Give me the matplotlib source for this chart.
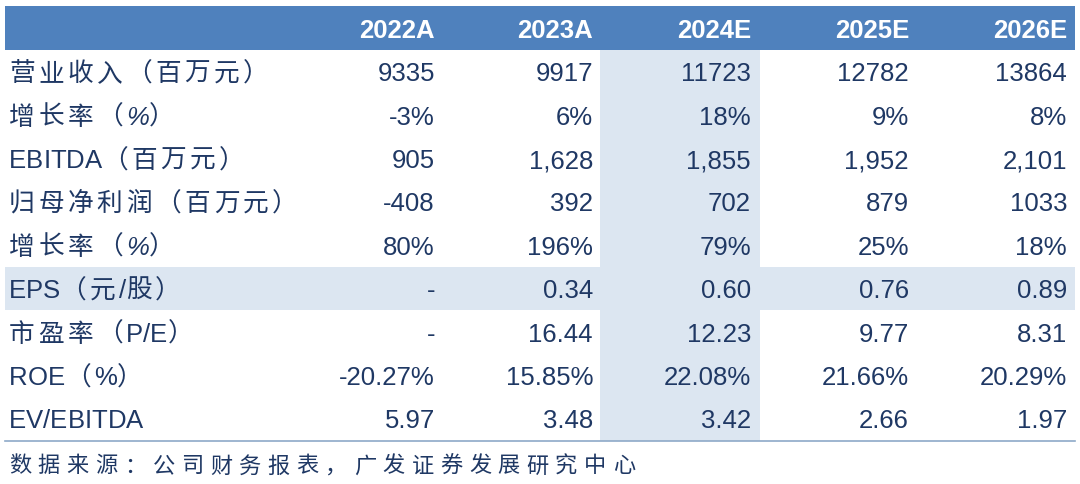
import matplotlib
matplotlib.use("Agg")
import matplotlib.pyplot as plt
from matplotlib.patches import Rectangle

plt.rcParams['font.family'] = ['Liberation Sans', 'Noto Sans CJK SC', 'DejaVu Sans']

years = ["2022A", "2023A", "2024E", "2025E", "2026E"]
row_labels = ["营业收入（百万元）", "增长率（%）", "EBITDA（百万元）", "归母净利润（百万元）", "增长率（%）",
              "EPS（元/股）", "市盈率（P/E）", "ROE（%）", "EV/EBITDA"]
italic_rows = [1, 4]
values = [
    ["9335", "9917", "11723", "12782", "13864"],
    ["-3%", "6%", "18%", "9%", "8%"],
    ["905", "1,628", "1,855", "1,952", "2,101"],
    ["-408", "392", "702", "879", "1033"],
    ["80%", "196%", "79%", "25%", "18%"],
    ["-", "0.34", "0.60", "0.76", "0.89"],
    ["-", "16.44", "12.23", "9.77", "8.31"],
    ["-20.27%", "15.85%", "22.08%", "21.66%", "20.29%"],
    ["5.97", "3.48", "3.42", "2.66", "1.97"],
]
source = "数据来源：公司财务报表，广发证券发展研究中心"

W, H = 1080, 484
fig = plt.figure(figsize=(W/100, H/100), dpi=100)
ax = fig.add_axes([0, 0, 1, 1])
ax.set_xlim(0, W); ax.set_ylim(H, 0); ax.axis('off')
renderer = fig.canvas.get_renderer()

blue = "#4F81BD"; light = "#DCE6F1"; txt = "#1F3864"
left, right = 5, 1075
hdr_top, hdr_bot = 6, 50
row_h = 43.4
col_right = [435, 593, 751, 909, 1067]

def spaced(x, y, s, fs, track, **kw):
    for ch in s:
        t = ax.text(x, y, ch, ha='left', va='center', color=txt, fontsize=fs, **kw)
        w = t.get_window_extent(renderer).width
        x += w + (track if ord(ch) > 0x2E80 else 0)

ax.add_patch(Rectangle((left, hdr_top), right-left, hdr_bot-hdr_top, color=blue, lw=0))
table_bot = hdr_bot + row_h*len(row_labels)
ax.add_patch(Rectangle((600, hdr_bot), 160, table_bot-hdr_bot, color=light, lw=0))
ax.add_patch(Rectangle((left, hdr_bot+row_h*5), right-left, row_h, color=light, lw=0))
ax.plot([left, right], [table_bot, table_bot], color="#8EA9C8", lw=1.2)

for j, y in enumerate(years):
    ax.text(col_right[j], (hdr_top+hdr_bot)/2+3, y, ha='right', va='center', color='white',
            fontsize=18.5, fontweight='bold')
for i, lab in enumerate(row_labels):
    yc = hdr_bot + row_h*(i+0.5) + 2.5
    spaced(9, yc, lab, 18.5, 3.5, style='italic' if i in italic_rows else 'normal')
    for j, v in enumerate(values[i]):
        ax.text(col_right[j], yc, v, ha='right', va='center', color=txt, fontsize=18.5)
spaced(9, 467, source, 16, 6.5)

fig.savefig("out.png", dpi=100)
